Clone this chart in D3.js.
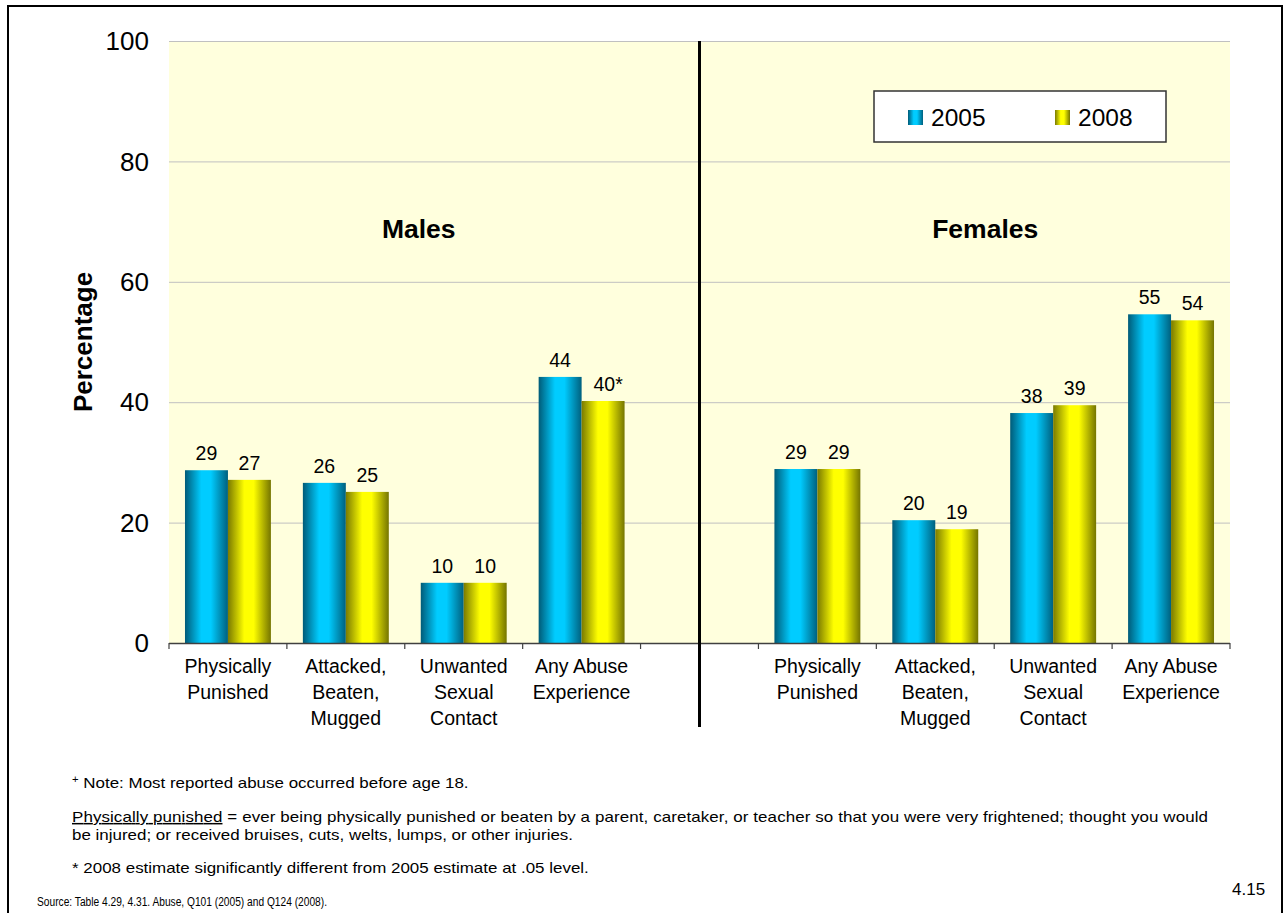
<!DOCTYPE html>
<html><head><meta charset="utf-8">
<script src="https://cdn.jsdelivr.net/npm/d3@7"></script>
<style>body{margin:0;background:#fff;} text{font-family:"Liberation Sans",Arial,sans-serif;}</style>
</head><body>
<svg id="c" width="1285" height="913"></svg>
<script>
const categories = [
  ["Physically","Punished"],
  ["Attacked,","Beaten,","Mugged"],
  ["Unwanted","Sexual","Contact"],
  ["Any Abuse","Experience"]
];
const groups = ["Males","Females"];
const seriesNames = ["2005","2008"];
const males2005 = [28.7, 26.6, 10.0, 44.2];
const males2008 = [27.1, 25.1, 10.0, 40.2];
const females2005 = [28.9, 20.4, 38.2, 54.6];
const females2008 = [28.9, 18.9, 39.5, 53.6];
const males2005Labels = ["29","26","10","44"];
const males2008Labels = ["27","25","10","40*"];
const females2005Labels = ["29","20","38","55"];
const females2008Labels = ["29","19","39","54"];
const yTicks = [0,20,40,60,80,100];

(function(){
const svg = d3.select("#c");
const defs = svg.append("defs");
function grad(id, dark, bright, dark2){
  const g = defs.append("linearGradient").attr("id",id).attr("x1","0%").attr("x2","100%").attr("y1","0%").attr("y2","0%");
  [[0,dark],[0.38,bright],[0.6,bright],[1,dark2]].forEach(([o,c])=>g.append("stop").attr("offset",o).attr("stop-color",c));
}
grad("g2005","#005b78","#00ccff","#00607e");
grad("g2008","#7a7a00","#ffff00","#757500");
const fills = ["url(#g2005)","url(#g2008)"];

svg.append("rect").attr("x",8).attr("y",6).attr("width",1274).attr("height",910).attr("fill","none").attr("stroke","#000").attr("stroke-width",2);

const pLeft=169, pRight=1230, pTop=41, pBottom=643;
const slots = ["m0","m1","m2","m3","gap","f0","f1","f2","f3"];
const x = d3.scaleBand().domain(slots).range([pLeft,pRight]).paddingInner(0).paddingOuter(0);
const y = d3.scaleLinear().domain([0,100]).range([pBottom,pTop]);

svg.append("rect").attr("x",pLeft).attr("y",pTop).attr("width",pRight-pLeft).attr("height",pBottom-pTop).attr("fill","#ffffdd");

svg.append("g").selectAll("line").data(yTicks.filter(t=>t>0)).join("line")
  .attr("x1",pLeft).attr("x2",pRight).attr("y1",d=>y(d)+0.5).attr("y2",d=>y(d)+0.5)
  .attr("stroke","#c0c0c0").attr("stroke-width",1);

svg.append("g").selectAll("text").data(yTicks).join("text")
  .attr("x",149).attr("y",d=>y(d)).attr("dy","0.35em").attr("text-anchor","end")
  .attr("font-size",26).attr("fill","#000").text(d=>d);

svg.append("text").attr("transform",`translate(92,${342}) rotate(-90)`)
  .attr("text-anchor","middle").attr("font-size",26).attr("font-weight","bold").text("Percentage");

const inner = d3.scaleBand().domain(seriesNames).range([0,x.bandwidth()]).paddingOuter(0.372).paddingInner(0);
const data = [];
const vals = {Males:[males2005,males2008], Females:[females2005,females2008]};
const labs = {Males:[males2005Labels,males2008Labels], Females:[females2005Labels,females2008Labels]};
groups.forEach((g,gi)=>{
  categories.forEach((c,ci)=>{
    seriesNames.forEach((s,si)=>{
      data.push({slot:(gi===0?"m":"f")+ci, s, si, v:vals[g][si][ci], lab:labs[g][si][ci]});
    });
  });
});
svg.append("g").selectAll("rect").data(data).join("rect")
  .attr("x",d=>x(d.slot)+inner(d.s)).attr("width",inner.bandwidth())
  .attr("y",d=>y(d.v)).attr("height",d=>pBottom-y(d.v)).attr("fill",d=>fills[d.si]);
svg.append("g").selectAll("text").data(data).join("text")
  .attr("x",d=>x(d.slot)+inner(d.s)+inner.bandwidth()/2 + (d.lab.endsWith("*")?5:0)).attr("y",d=>y(d.v)-10)
  .attr("text-anchor","middle").attr("font-size",19.5).text(d=>d.lab);

svg.append("line").attr("x1",pLeft).attr("x2",pRight).attr("y1",pBottom+0.5).attr("y2",pBottom+0.5).attr("stroke","#404040").attr("stroke-width",1.5);
const tickXs = slots.map(s=>x(s)).concat([pRight]);
svg.append("g").selectAll("line").data(tickXs).join("line")
  .attr("x1",d=>d).attr("x2",d=>d).attr("y1",pBottom).attr("y2",pBottom+6).attr("stroke","#404040").attr("stroke-width",1.2);

const catG = svg.append("g");
["m","f"].forEach(p=>{
  categories.forEach((c,ci)=>{
    const cx = x(p+ci)+x.bandwidth()/2;
    const t = catG.append("text").attr("x",cx).attr("y",673).attr("text-anchor","middle").attr("font-size",19.5);
    c.forEach((line,li)=>t.append("tspan").attr("x",cx).attr("dy",li===0?0:26).text(line));
  });
});

svg.append("line").attr("x1",x("gap")+x.bandwidth()/2).attr("x2",x("gap")+x.bandwidth()/2).attr("y1",pTop).attr("y2",727)
  .attr("stroke","#000").attr("stroke-width",3);

svg.append("text").attr("x",(x("m0")+x("m3")+x.bandwidth())/2+14).attr("y",238).attr("text-anchor","middle").attr("font-size",26.5).attr("font-weight","bold").text(groups[0]);
svg.append("text").attr("x",(x("f0")+x("f3")+x.bandwidth())/2-9).attr("y",238).attr("text-anchor","middle").attr("font-size",26.5).attr("font-weight","bold").text(groups[1]);

const lg = svg.append("g");
lg.append("rect").attr("x",874).attr("y",91).attr("width",292).attr("height",51).attr("fill","#fff").attr("stroke","#333").attr("stroke-width",1.5);
seriesNames.forEach((s,i)=>{
  const lx = 908 + i*147;
  lg.append("rect").attr("x",lx).attr("y",110).attr("width",15).attr("height",15).attr("fill",fills[i]);
  lg.append("text").attr("x",lx+23).attr("y",117).attr("dy","0.35em").attr("font-size",24.5).text(s);
});

const sx = 1.13;
const notes = svg.append("g").attr("transform",`translate(72,0) scale(${sx},1)`);
const n1 = notes.append("text").attr("x",0).attr("y",788).attr("font-size",15);
n1.append("tspan").attr("font-size",10).attr("dy",-5).text("+");
n1.append("tspan").attr("dy",5).text(" Note: Most reported abuse occurred before age 18.");
const n2 = notes.append("text").attr("x",0).attr("y",822).attr("font-size",15).attr("textLength",1136/sx).attr("lengthAdjust","spacing");
n2.append("tspan").attr("text-decoration","underline").text("Physically punished");
n2.append("tspan").text(" = ever being physically punished or beaten by a parent, caretaker, or teacher so that you were very frightened; thought you would");
notes.append("text").attr("x",0).attr("y",840).attr("font-size",15).text("be injured; or received bruises, cuts, welts, lumps, or other injuries.");
notes.append("text").attr("x",0).attr("y",873).attr("font-size",15).text("* 2008 estimate significantly different from 2005 estimate at .05 level.");
svg.append("text").attr("x",37).attr("y",906).attr("font-size",12).attr("textLength",290).attr("lengthAdjust","spacingAndGlyphs").text("Source: Table 4.29, 4.31. Abuse, Q101 (2005) and Q124 (2008).");
svg.append("text").attr("x",1232).attr("y",895).attr("font-size",17).text("4.15");
})();
</script>
</body></html>
